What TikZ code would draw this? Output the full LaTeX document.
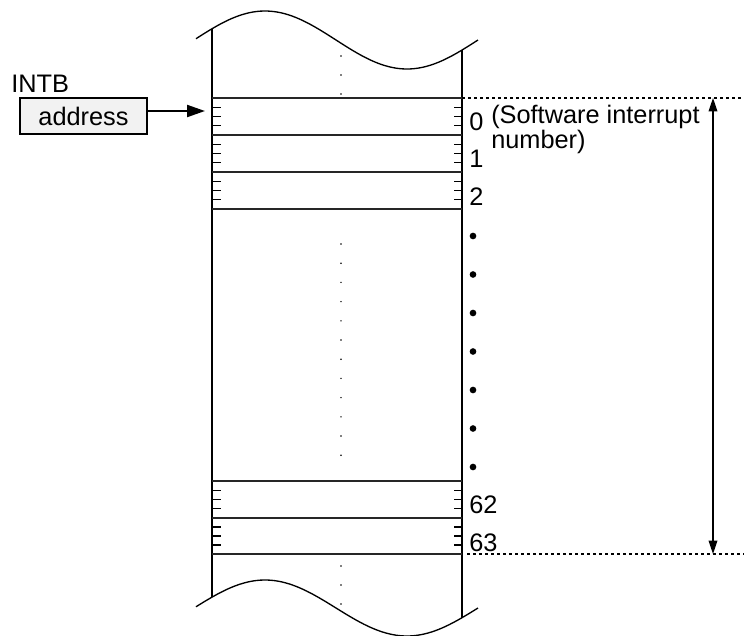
\documentclass[tikz,border=0pt]{standalone}
\usepackage{fontspec}
\setmainfont{Liberation Sans}
\usetikzlibrary{arrows.meta}
\tikzset{
  lbl/.style     = {inner sep=0pt, font=\fontsize{19}{13.5}\selectfont},
  addr/.style    = {draw, line width=1.6pt, fill=black!5, inner sep=0pt,
                    minimum width=95pt, minimum height=27pt,
                    font=\fontsize{19}{22}\selectfont},
  wall/.style    = {line width=1pt},
  rowline/.style = {line width=0.9pt, black!85},
  tick/.style    = {line width=0.8pt},
  guide/.style   = {line width=1.7pt, dash pattern=on 2.25pt off 2.25pt},
  ptr/.style     = {-{Triangle[length=13.5pt,width=9pt]}, line width=1.6pt},
  span/.style    = {{Triangle[length=10pt,width=6.5pt]}-{Triangle[length=10pt,width=6.5pt]},
                    line width=1pt}
}

\begin{document}
\begin{tikzpicture}[x=0.75pt,y=-0.75pt]
  \useasboundingbox (0,0) rectangle (744,636);

  % ---- torn edges of the table ----
  \draw[wall] plot[domain=196:478, samples=80, smooth] (\x, {40-29*sin((\x-194)*1.26761)});
  \draw[wall] plot[domain=196:478, samples=80, smooth] (\x, {608-28*sin((\x-194)*1.26761)});
  \draw[wall] (212,28.8) -- (212,597.1);
  \draw[wall] (462,50.1) -- (462,617.7);

  % ---- table rows and byte ticks ----
  \foreach \y in {98,135,172,209,481,518,554}
    \draw[rowline] (212,\y) -- (462,\y);
  \foreach \a/\b in {98/135,135/172,172/209,481/518,518/554}
    \foreach \k in {1,2,3} {
      \draw[tick] (212,{\a+\k*(\b-\a)/4}) -- +(9,0);
      \draw[tick] (462,{\a+\k*(\b-\a)/4}) -- +(-8,0);
    }

  % ---- omitted entries ----
  \foreach \y in {56,75,94,566,585,604}
    \fill (341,\y) circle (0.6pt);
  \foreach \i in {0,...,11}
    \fill (341,{244+19.2*\i}) circle (0.6pt);
  \foreach \i in {0,...,6}
    \fill (473,{236+38.5*\i}) circle (2.5pt);

  % ---- entry numbers ----
  \node[lbl, anchor=base west] (n0) at (469,130) {0};
  \node[lbl, anchor=base west, align=left] (swi) at (491,148) {(Software interrupt\\number)};
  \node[lbl, anchor=base west] (n1) at (469,167) {1};
  \node[lbl, anchor=base west] (n2) at (469,205) {2};
  \node[lbl, anchor=base west] (n62) at (469,513) {62};
  \node[lbl, anchor=base west] (n63) at (469,551) {63};

  % ---- INTB register ----
  \node[lbl, anchor=base west] (intb) at (11,92) {INTB};
  \node[addr] (addr) at (83.5,116) {address};
  \coordinate (slot0) at (205,111);
  \draw[ptr] (addr.east |- slot0) -- (slot0);

  % ---- table extent ----
  \coordinate (topL) at (462,98);
  \coordinate (topR) at (744,98);
  \coordinate (botL) at (467,554);
  \coordinate (botR) at (744,554);
  \draw[guide] (topL) -- (topR);
  \draw[guide] (botL) -- (botR);
  \coordinate (spanT) at (713,98);
  \coordinate (spanB) at (713,554);
  \draw[span] (spanB) -- (spanT);
\end{tikzpicture}
\end{document}
